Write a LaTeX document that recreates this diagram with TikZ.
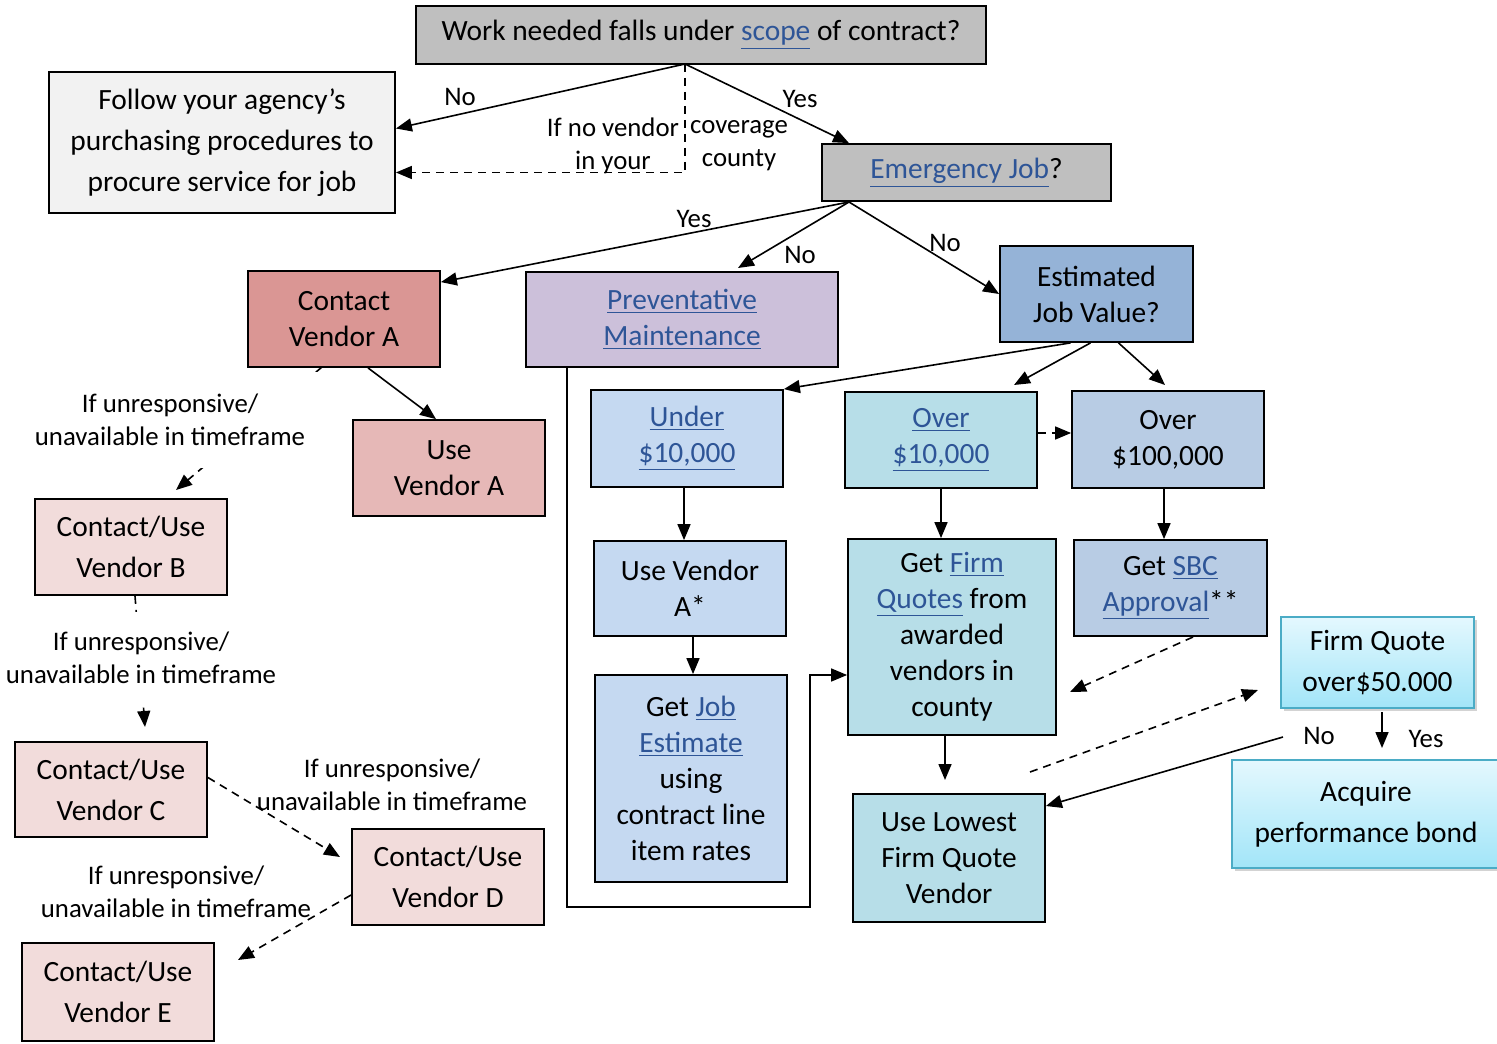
\documentclass[tikz,border=0pt]{standalone}
\usepackage{fontspec}
\setmainfont{Carlito}
\usetikzlibrary{arrows.meta}
\usetikzlibrary{shadows}

\definecolor{linkblue}{HTML}{2E5597}
\definecolor{qgray}{HTML}{BFBFBF}
\definecolor{pale}{HTML}{F2F2F2}
\definecolor{redA}{HTML}{DA9694}
\definecolor{redUse}{HTML}{E6B8B7}
\definecolor{redAlt}{HTML}{F2DCDB}
\definecolor{lilac}{HTML}{CCC0DA}
\definecolor{steel}{HTML}{95B3D7}
\definecolor{skyA}{HTML}{C5D9F1}
\definecolor{tealA}{HTML}{B7DEE8}
\definecolor{slate}{HTML}{B8CCE4}
\definecolor{cyanTop}{HTML}{E4F8FE}
\definecolor{cyanBot}{HTML}{A2E5F8}
\definecolor{cyanLine}{HTML}{4BACC6}

\newcommand{\lnk}[1]{{\color{linkblue}\underline{#1}}}

\tikzset{
  box/.style={draw, line width=0.9pt, align=center, inner sep=0pt,
    font=\fontsize{14.7}{18}\selectfont},
  wide/.style={font=\fontsize{14.7}{20.5}\selectfont},
  glow/.style={draw=cyanLine, line width=0.8pt, top color=cyanTop, bottom color=cyanBot,
    drop shadow={opacity=0.35, shadow xshift=1.5pt, shadow yshift=-1.5pt}},
  lbl/.style={align=center, inner sep=1pt, font=\fontsize{13.4}{16.5}\selectfont},
  flow/.style={-{Triangle[length=8pt,width=6.5pt]}, line width=0.8pt},
  alt/.style={flow, dash pattern=on 4pt off 3pt}
}

\begin{document}
\begin{tikzpicture}[x=0.5pt, y=-0.5pt]
    \useasboundingbox (0,0) rectangle (1497,1043);
    % top question
    \node [box, fill=qgray, minimum width=285pt, minimum height=29pt] (scope) at (701,35)
        {Work needed falls under \lnk{scope} of contract?};
    \node [box, wide, fill=pale, minimum width=173pt, minimum height=70.5pt] (follow) at (222,142.5)
        {Follow your agency’s\\purchasing procedures to\\procure service for job};
    \node [box, fill=qgray, minimum width=144.5pt, minimum height=28.5pt] (emerg) at (966.5,172.5)
        {\lnk{Emergency Job}?};
    \coordinate (scb) at (685,64);
    \coordinate (emb) at (849,202);
    \draw [flow] (scb) to ([yshift=7pt]follow.east);
    \draw [flow] (scb) to (emerg.north -| emb);
    \draw [alt] (scb) |- ([yshift=-15pt]follow.east);
    \node [lbl] (no1) at (460,97) {No};
    \node [lbl] (yes1) at (800,99) {Yes};
    \node [lbl] (nvl) at (613,146) {If no vendor\\in your};
    \node [lbl] (nvr) at (739,146) {coverage\\county};
    % second row
    \node [box, fill=redA, minimum width=96pt, minimum height=48pt] (cA) at (344,319) {Contact\\Vendor A};
    \node [box, fill=lilac, minimum width=156pt, minimum height=47.5pt] (prev) at (682,319.5)
        {\lnk{Preventative}\\\lnk{Maintenance}};
    \node [box, fill=steel, minimum width=96.5pt, minimum height=48pt] (est) at (1096.5,294)
        {Estimated\\Job Value?};
    \coordinate (previn) at (738,268);
    \draw [flow] (emb) to ([yshift=-6pt]cA.north east);
    \draw [flow] (emb) to (previn);
    \draw [flow] (emb) to (est.west);
    \node [lbl] (yes2) at (694,219) {Yes};
    \node [lbl] (no2) at (800,255) {No};
    \node [lbl] (no3) at (945,243) {No};
    % vendor A chain
    \node [box, fill=redUse, minimum width=96pt, minimum height=48pt] (useA) at (449,468) {Use\\Vendor A};
    \node [box, wide, fill=redAlt, minimum width=96pt, minimum height=48pt] (vB) at (131,547)
        {Contact/Use\\Vendor B};
    \node [box, wide, fill=redAlt, minimum width=96pt, minimum height=47.5pt] (vC) at (111,789.5)
        {Contact/Use\\Vendor C};
    \node [box, wide, fill=redAlt, minimum width=96pt, minimum height=48pt] (vD) at (448,877)
        {Contact/Use\\Vendor D};
    \node [box, wide, fill=redAlt, minimum width=96pt, minimum height=49pt] (vE) at (118,992)
        {Contact/Use\\Vendor E};
    \coordinate (cAb) at (322,367);
    \coordinate (vBin) at (176,490);
    \coordinate (vCin) at (145,727);
    \coordinate (vDin) at (340,857);
    \coordinate (vEin) at (238,960);
    \draw [flow] ([xshift=12pt]cA.south) to ([xshift=-6.5pt]useA.north);
    \draw [alt] (cAb) to (vBin);
    \draw [alt] ([xshift=2pt]vB.south) to (vCin);
    \draw [alt] ([yshift=6pt]vC.east) to (vDin);
    \draw [alt] ([yshift=-9pt]vD.west) to (vEin);
    \node [lbl, fill=white, minimum width=150pt, minimum height=48pt] (u1) at (170,420)
        {If unresponsive/\\unavailable in timeframe};
    \node [lbl, fill=white, minimum width=140pt, minimum height=46pt] (u2) at (141,658)
        {If unresponsive/\\unavailable in timeframe};
    \node [lbl] (u3) at (392,785) {If unresponsive/\\unavailable in timeframe};
    \node [lbl] (u4) at (176,892) {If unresponsive/\\unavailable in timeframe};
    % job value branches
    \node [box, fill=skyA, minimum width=96pt, minimum height=48.5pt] (under) at (687,438.5)
        {\lnk{Under}\\\lnk{\$10,000}};
    \node [box, fill=tealA, minimum width=96pt, minimum height=48pt] (over10) at (941,440)
        {\lnk{Over}\\\lnk{\$10,000}};
    \node [box, fill=slate, minimum width=96pt, minimum height=48.5pt] (over100) at (1168,439.5)
        {Over\\\$100,000};
    \coordinate (o10in) at (1014,385);
    \coordinate (o100in) at (1165,385);
    \draw [flow] ([xshift=-13pt]est.south) to (under.north east);
    \draw [flow] ([xshift=-3pt]est.south) to (o10in);
    \draw [flow] ([xshift=11pt]est.south) to (o100in);
    \draw [alt] ([yshift=3.5pt]over10.east) to ([yshift=3.5pt]over10.east -| over100.west);
    % under 10,000
    \node [box, fill=skyA, minimum width=96pt, minimum height=47.5pt] (useVA) at (690,588.5)
        {Use Vendor\\A*};
    \node [box, fill=skyA, minimum width=96pt, minimum height=103.5pt] (jobEst) at (691,778.5)
        {Get \lnk{Job}\\\lnk{Estimate}\\using\\contract line\\item rates};
    \draw [flow] ([xshift=-1.5pt]under.south) to ([xshift=-1.5pt]under.south |- useVA.north);
    \draw [flow] ([xshift=1.5pt]useVA.south) to ([xshift=1.5pt]useVA.south |- jobEst.north);
    % over 10,000
    \node [box, fill=tealA, minimum width=104pt, minimum height=98pt] (firm) at (952,637)
        {Get \lnk{Firm}\\\lnk{Quotes} from\\awarded\\vendors in\\county};
    \node [box, fill=slate, minimum width=96.5pt, minimum height=48pt] (sbc) at (1170.5,588)
        {Get \lnk{SBC}\\\lnk{Approval}**};
    \node [box, fill=tealA, minimum width=96pt, minimum height=64pt] (low) at (949,858)
        {Use Lowest\\Firm Quote\\Vendor};
    \draw [flow] (over10.south) to (over10.south |- firm.north);
    \draw [flow] ([xshift=-2pt]over100.south) to ([xshift=-2pt]over100.south |- sbc.north);
    \coordinate (prevl) at (567,367);
    \draw [line width=0.8pt, -{Triangle[length=8pt,width=6.5pt]}]
        (prevl) |- (810,907) |- ([yshift=-19pt]firm.west);
    \coordinate (sbcout) at (1193,637);
    \coordinate (sbcend) at (1070,692);
    \draw [alt] (sbcout) to (sbcend);
    \coordinate (lowin) at (945,780);
    \draw [flow] ([xshift=-3.5pt]firm.south) to (lowin);
    % firm quote over 50,000
    \node [box, glow, wide, minimum width=96.5pt, minimum height=45.5pt] (fq) at (1377.5,662.5)
        {Firm Quote\\over\$50.000};
    \node [box, glow, wide, minimum width=134pt, minimum height=54pt] (bond) at (1366,814)
        {Acquire\\performance bond};
    \coordinate (fqout) at (1030,772);
    \coordinate (fqin) at (1258,690);
    \draw [alt] (fqout) to (fqin);
    \coordinate (fqno) at (1283,737);
    \draw [flow] (fqno) to ([yshift=26pt]low.east);
    \coordinate (fqy) at (1382,712);
    \coordinate (bondin) at (1382,748);
    \draw [flow] (fqy) to (bondin);
    \node [lbl] (no4) at (1319,736) {No};
    \node [lbl] (yes4) at (1426,739) {Yes};
\end{tikzpicture}
\end{document}
